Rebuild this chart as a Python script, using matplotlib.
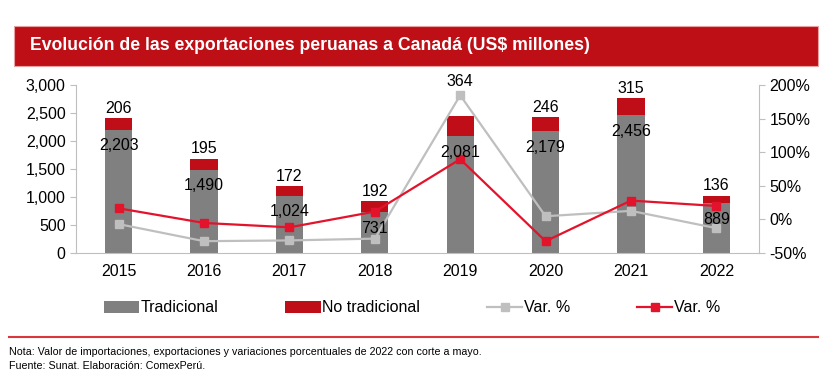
import matplotlib.pyplot as plt
import matplotlib.patches as mpatches
from matplotlib.ticker import FuncFormatter
import numpy as np

plt.rcParams['font.family'] = ['Liberation Sans', 'DejaVu Sans']

years = ['2015', '2016', '2017', '2018', '2019', '2020', '2021', '2022']
tradicional = [2203, 1490, 1024, 731, 2081, 2179, 2456, 889]
no_tradicional = [206, 195, 172, 192, 364, 246, 315, 136]
var_trad = [-7, -32.4, -31.3, -28.6, 184.7, 4.7, 12.7, -13]
var_no_trad = [16.5, -5.3, -11.8, 11.6, 89.6, -32.4, 28.0, 20.0]

gray_bar = '#808080'
red_bar = '#C00E18'
gray_line = '#BFBFBF'
red_line = '#E3132C'
axis_col = '#BFBFBF'

fig = plt.figure(figsize=(8.34, 3.8), dpi=100)

# title bar
fig.patches.append(mpatches.Rectangle((14 / 834, 1 - 66 / 380), 804 / 834, 40 / 380,
                                      transform=fig.transFigure, facecolor='#BE0F16',
                                      edgecolor='#E8A0A0', lw=0.8))
fig.text(30 / 834, 1 - 45 / 380, 'Evolución de las exportaciones peruanas a Canadá (US$ millones)',
         color='white', fontsize=12.7, fontweight='bold', va='center', ha='left')

ax = fig.add_axes([76 / 834, 1 - 253 / 380, 683 / 834, 168 / 380])
x = np.arange(len(years))
w = 0.32
ax.bar(x, tradicional, w, color=gray_bar, label='Tradicional')
ax.bar(x, no_tradicional, w, bottom=tradicional, color=red_bar, label='No tradicional')

ax.set_xlim(-0.5, len(years) - 0.5)
ax.set_ylim(0, 3000)
ax.set_yticks(range(0, 3001, 500))
ax.yaxis.set_major_formatter(FuncFormatter(lambda v, p: f'{int(v):,}'))
ax.set_xticks(x)
ax.set_xticklabels(years)
for s in ['top', 'right']:
    ax.spines[s].set_visible(False)
for s in ['left', 'bottom']:
    ax.spines[s].set_color(axis_col)
ax.tick_params(axis='y', colors=axis_col, labelcolor='black', labelsize=11.5, length=4)
ax.tick_params(axis='x', length=0, labelsize=11.5, pad=8)

ax2 = ax.twinx()
ax2.plot(x, var_trad, color=gray_line, lw=1.6, marker='s', ms=5.5, label='Var. %')
ax2.plot(x, var_no_trad, color=red_line, lw=1.6, marker='s', ms=5.5, label='Var. %')
ax2.set_ylim(-50, 200)
ax2.set_yticks(range(-50, 201, 50))
ax2.yaxis.set_major_formatter(FuncFormatter(lambda v, p: f'{int(v)}%'))
for s in ['top', 'left', 'bottom']:
    ax2.spines[s].set_visible(False)
ax2.spines['right'].set_color(axis_col)
ax2.tick_params(axis='y', colors=axis_col, labelcolor='black', labelsize=11.5, length=4)

# data labels (drawn on the top axes so the lines do not hide them)
for i in range(len(years)):
    top = tradicional[i] + no_tradicional[i]
    ax2.text(x[i], tradicional[i] - 290, f'{tradicional[i]:,}', ha='center', va='center',
             fontsize=11.5, transform=ax.transData)
    off = 480 if years[i] == '2019' else 40
    ax2.text(x[i], top + off, f'{no_tradicional[i]:,}', ha='center', va='bottom',
             fontsize=11.5, transform=ax.transData, clip_on=False)

# legend
h1, l1 = ax.get_legend_handles_labels()
h2, l2 = ax2.get_legend_handles_labels()
fig.legend(h1 + h2, l1 + l2, loc='center', bbox_to_anchor=(0.494, 1 - 308 / 380), ncol=4,
           frameon=False, fontsize=11.5, handlelength=2.2, handletextpad=0.1,
           columnspacing=4.2)

# separator line and notes
fig.add_artist(plt.Line2D([9 / 834, 818 / 834], [1 - 337 / 380, 1 - 337 / 380],
                          color='#D9363E', lw=1.5))
fig.text(9 / 834, 1 - 352 / 380,
         'Nota: Valor de importaciones, exportaciones y variaciones porcentuales de 2022 con corte a mayo.',
         fontsize=7.7, va='center')
fig.text(9 / 834, 1 - 366 / 380, 'Fuente: Sunat. Elaboración: ComexPerú.', fontsize=7.7, va='center')

fig.savefig('out.png', dpi=100)
